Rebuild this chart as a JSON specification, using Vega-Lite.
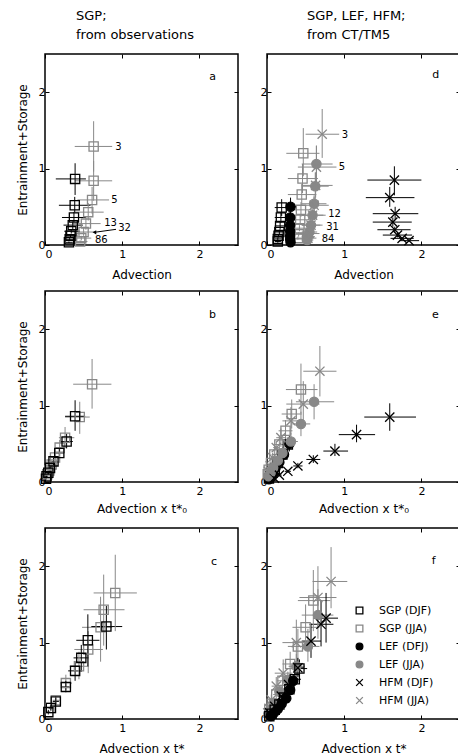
{
"$schema":"https://vega.github.io/schema/vega-lite/v6.json",
"padding":{"left":15,"top":8,"right":0,"bottom":0},
"config":{"font":"DejaVu Sans","view":{"stroke":"black","strokeWidth":1.5},
"axis":{"domain":false,"grid":false,"tickSize":-4,"tickColor":"black","tickWidth":1,"labelFontSize":11,"labelColor":"black","titleFontSize":12,"titleFontWeight":"normal","titleColor":"black"},
"axisX":{"labelPadding":7,"titlePadding":10},
"axisY":{"labelPadding":4,"titlePadding":9},
"title":{"fontSize":13,"fontWeight":"normal","color":"black","lineHeight":19},
"legend":{"orient":"none","legendX":309,"legendY":551,"labelFontSize":11,"symbolSize":45,"rowPadding":5,"labelOffset":14,"symbolStrokeWidth":1.3,"labelColor":"black"}},
"bounds":"flush",
"spacing":{"row":46,"column":29},
"columns":2,
"datasets":{
"pts":[
{"p":"a","s":"SGP (JJA)","x":0.63,"y":1.29,"xl":0.385,"xh":0.87,"yl":0.96,"yh":1.62},
{"p":"a","s":"SGP (JJA)","x":0.63,"y":0.84,"xl":0.385,"xh":0.87,"yl":0.58,"yh":1.1},
{"p":"a","s":"SGP (JJA)","x":0.61,"y":0.59,"xl":0.42,"xh":0.83,"yl":0.41,"yh":0.76},
{"p":"a","s":"SGP (JJA)","x":0.56,"y":0.43,"xl":0.37,"xh":0.76,"yl":0.32,"yh":0.55},
{"p":"a","s":"SGP (JJA)","x":0.53,"y":0.28,"xl":0.35,"xh":0.72,"yl":0.2,"yh":0.36},
{"p":"a","s":"SGP (JJA)","x":0.5,"y":0.17,"xl":0.35,"xh":0.66,"yl":0.12,"yh":0.23},
{"p":"a","s":"SGP (JJA)","x":0.47,"y":0.09,"xl":0.36,"xh":0.6,"yl":0.06,"yh":0.12},
{"p":"a","s":"SGP (JJA)","x":0.455,"y":0.045,"xl":0.37,"xh":0.55,"yl":0.03,"yh":0.06},
{"p":"a","s":"SGP (DJF)","x":0.39,"y":0.865,"xl":0.14,"xh":0.53,"yl":0.655,"yh":1.07},
{"p":"a","s":"SGP (DJF)","x":0.385,"y":0.52,"xl":0.18,"xh":0.59,"yl":0.43,"yh":0.63},
{"p":"a","s":"SGP (DJF)","x":0.375,"y":0.36,"xl":0.22,"xh":0.53,"yl":0.3,"yh":0.43},
{"p":"a","s":"SGP (DJF)","x":0.36,"y":0.26,"xl":0.24,"xh":0.49,"yl":0.21,"yh":0.31},
{"p":"a","s":"SGP (DJF)","x":0.34,"y":0.18,"xl":0.25,"xh":0.45,"yl":0.15,"yh":0.21},
{"p":"a","s":"SGP (DJF)","x":0.33,"y":0.12,"xl":0.26,"xh":0.42,"yl":0.1,"yh":0.14},
{"p":"a","s":"SGP (DJF)","x":0.32,"y":0.075,"xl":0.27,"xh":0.39,"yl":0.06,"yh":0.09},
{"p":"a","s":"SGP (DJF)","x":0.31,"y":0.035,"xl":0.27,"xh":0.36,"yl":0.025,"yh":0.045},

{"p":"d","s":"SGP (DJF)","x":0.19,"y":0.49,"xl":0.1,"xh":0.28,"yl":0.38,"yh":0.6},
{"p":"d","s":"SGP (DJF)","x":0.18,"y":0.36,"xl":0.1,"xh":0.26,"yl":0.29,"yh":0.43},
{"p":"d","s":"SGP (DJF)","x":0.17,"y":0.25,"xl":0.1,"xh":0.24,"yl":0.2,"yh":0.3},
{"p":"d","s":"SGP (DJF)","x":0.16,"y":0.17,"xl":0.1,"xh":0.22,"yl":0.14,"yh":0.2},
{"p":"d","s":"SGP (DJF)","x":0.15,"y":0.12,"xl":0.1,"xh":0.2,"yl":0.1,"yh":0.14},
{"p":"d","s":"SGP (DJF)","x":0.14,"y":0.08,"xl":0.1,"xh":0.19,"yl":0.06,"yh":0.1},
{"p":"d","s":"SGP (DJF)","x":0.14,"y":0.045,"xl":0.1,"xh":0.18,"yl":0.03,"yh":0.06},
{"p":"d","s":"SGP (JJA)","x":0.47,"y":1.2,"xl":0.25,"xh":0.68,"yl":0.9,"yh":1.53},
{"p":"d","s":"SGP (JJA)","x":0.46,"y":0.87,"xl":0.27,"xh":0.66,"yl":0.68,"yh":1.06},
{"p":"d","s":"SGP (JJA)","x":0.45,"y":0.66,"xl":0.27,"xh":0.64,"yl":0.52,"yh":0.8},
{"p":"d","s":"SGP (JJA)","x":0.44,"y":0.46,"xl":0.28,"xh":0.6,"yl":0.37,"yh":0.56},
{"p":"d","s":"SGP (JJA)","x":0.43,"y":0.33,"xl":0.3,"xh":0.57,"yl":0.27,"yh":0.4},
{"p":"d","s":"SGP (JJA)","x":0.42,"y":0.22,"xl":0.31,"xh":0.53,"yl":0.18,"yh":0.26},
{"p":"d","s":"SGP (JJA)","x":0.41,"y":0.14,"xl":0.32,"xh":0.5,"yl":0.11,"yh":0.17},
{"p":"d","s":"SGP (JJA)","x":0.4,"y":0.09,"xl":0.33,"xh":0.48,"yl":0.07,"yh":0.11},
{"p":"d","s":"LEF (DFJ)","x":0.305,"y":0.5,"xl":0.25,"xh":0.38,"yl":0.4,"yh":0.62},
{"p":"d","s":"LEF (DFJ)","x":0.3,"y":0.36,"xl":0.25,"xh":0.36,"yl":0.3,"yh":0.43},
{"p":"d","s":"LEF (DFJ)","x":0.3,"y":0.26,"xl":0.26,"xh":0.35,"yl":0.21,"yh":0.31},
{"p":"d","s":"LEF (DFJ)","x":0.3,"y":0.18,"xl":0.26,"xh":0.34,"yl":0.15,"yh":0.21},
{"p":"d","s":"LEF (DFJ)","x":0.3,"y":0.12,"xl":0.27,"xh":0.33,"yl":0.1,"yh":0.14},
{"p":"d","s":"LEF (DFJ)","x":0.3,"y":0.075,"xl":0.27,"xh":0.33,"yl":0.06,"yh":0.09},
{"p":"d","s":"LEF (DFJ)","x":0.305,"y":0.035,"xl":0.28,"xh":0.33,"yl":0.025,"yh":0.045},
{"p":"d","s":"LEF (JJA)","x":0.64,"y":1.06,"xl":0.45,"xh":0.85,"yl":0.82,"yh":1.3},
{"p":"d","s":"LEF (JJA)","x":0.625,"y":0.77,"xl":0.45,"xh":0.8,"yl":0.6,"yh":0.95},
{"p":"d","s":"LEF (JJA)","x":0.61,"y":0.54,"xl":0.45,"xh":0.77,"yl":0.44,"yh":0.65},
{"p":"d","s":"LEF (JJA)","x":0.59,"y":0.39,"xl":0.45,"xh":0.73,"yl":0.32,"yh":0.46},
{"p":"d","s":"LEF (JJA)","x":0.57,"y":0.26,"xl":0.45,"xh":0.69,"yl":0.21,"yh":0.31},
{"p":"d","s":"LEF (JJA)","x":0.55,"y":0.17,"xl":0.45,"xh":0.65,"yl":0.14,"yh":0.2},
{"p":"d","s":"LEF (JJA)","x":0.53,"y":0.11,"xl":0.45,"xh":0.62,"yl":0.09,"yh":0.13},
{"p":"d","s":"LEF (JJA)","x":0.52,"y":0.065,"xl":0.45,"xh":0.6,"yl":0.05,"yh":0.08},
{"p":"d","s":"HFM (DJF)","x":1.65,"y":0.85,"xl":1.3,"xh":2.0,"yl":0.65,"yh":1.03},
{"p":"d","s":"HFM (DJF)","x":1.59,"y":0.62,"xl":1.28,"xh":1.91,"yl":0.5,"yh":0.76},
{"p":"d","s":"HFM (DJF)","x":1.66,"y":0.41,"xl":1.37,"xh":1.96,"yl":0.33,"yh":0.5},
{"p":"d","s":"HFM (DJF)","x":1.63,"y":0.3,"xl":1.37,"xh":1.875,"yl":0.24,"yh":0.36},
{"p":"d","s":"HFM (DJF)","x":1.655,"y":0.2,"xl":1.43,"xh":1.86,"yl":0.16,"yh":0.24},
{"p":"d","s":"HFM (DJF)","x":1.69,"y":0.13,"xl":1.5,"xh":1.88,"yl":0.1,"yh":0.16},
{"p":"d","s":"HFM (DJF)","x":1.75,"y":0.087,"xl":1.6,"xh":1.9,"yl":0.07,"yh":0.1},
{"p":"d","s":"HFM (DJF)","x":1.84,"y":0.057,"xl":1.72,"xh":1.97,"yl":0.045,"yh":0.07},
{"p":"d","s":"HFM (JJA)","x":0.715,"y":1.45,"xl":0.5,"xh":0.935,"yl":1.14,"yh":1.78},
{"p":"d","s":"HFM (JJA)","x":0.64,"y":1.02,"xl":0.4,"xh":0.9,"yl":0.8,"yh":1.3},
{"p":"d","s":"HFM (JJA)","x":0.63,"y":0.78,"xl":0.45,"xh":0.85,"yl":0.62,"yh":0.95},
{"p":"d","s":"HFM (JJA)","x":0.61,"y":0.52,"xl":0.45,"xh":0.8,"yl":0.42,"yh":0.63},
{"p":"d","s":"HFM (JJA)","x":0.59,"y":0.39,"xl":0.45,"xh":0.76,"yl":0.32,"yh":0.46},
{"p":"d","s":"HFM (JJA)","x":0.57,"y":0.26,"xl":0.45,"xh":0.72,"yl":0.21,"yh":0.31},
{"p":"d","s":"HFM (JJA)","x":0.55,"y":0.15,"xl":0.45,"xh":0.68,"yl":0.12,"yh":0.18},
{"p":"d","s":"HFM (JJA)","x":0.53,"y":0.09,"xl":0.45,"xh":0.64,"yl":0.07,"yh":0.11},

{"p":"b","s":"SGP (JJA)","x":0.61,"y":1.28,"xl":0.365,"xh":0.86,"yl":0.96,"yh":1.61},
{"p":"b","s":"SGP (JJA)","x":0.45,"y":0.85,"xl":0.26,"xh":0.58,"yl":0.63,"yh":1.05},
{"p":"b","s":"SGP (JJA)","x":0.26,"y":0.58,"xl":0.18,"xh":0.38,"yl":0.45,"yh":0.72},
{"p":"b","s":"SGP (JJA)","x":0.19,"y":0.45,"xl":0.13,"xh":0.28,"yl":0.36,"yh":0.55},
{"p":"b","s":"SGP (JJA)","x":0.13,"y":0.32,"xl":0.08,"xh":0.2,"yl":0.25,"yh":0.39},
{"p":"b","s":"SGP (JJA)","x":0.086,"y":0.23,"xl":0.05,"xh":0.14,"yl":0.18,"yh":0.28},
{"p":"b","s":"SGP (JJA)","x":0.056,"y":0.15,"xl":0.03,"xh":0.09,"yl":0.12,"yh":0.18},
{"p":"b","s":"SGP (JJA)","x":0.03,"y":0.1,"xl":0.015,"xh":0.05,"yl":0.08,"yh":0.12},
{"p":"b","s":"SGP (DJF)","x":0.39,"y":0.86,"xl":0.26,"xh":0.52,"yl":0.67,"yh":1.07},
{"p":"b","s":"SGP (DJF)","x":0.28,"y":0.53,"xl":0.2,"xh":0.36,"yl":0.44,"yh":0.63},
{"p":"b","s":"SGP (DJF)","x":0.185,"y":0.38,"xl":0.12,"xh":0.25,"yl":0.32,"yh":0.44},
{"p":"b","s":"SGP (DJF)","x":0.11,"y":0.27,"xl":0.07,"xh":0.16,"yl":0.22,"yh":0.32},
{"p":"b","s":"SGP (DJF)","x":0.065,"y":0.185,"xl":0.04,"xh":0.1,"yl":0.15,"yh":0.22},
{"p":"b","s":"SGP (DJF)","x":0.043,"y":0.12,"xl":0.025,"xh":0.065,"yl":0.1,"yh":0.14},
{"p":"b","s":"SGP (DJF)","x":0.02,"y":0.075,"xl":0.01,"xh":0.035,"yl":0.06,"yh":0.09},
{"p":"b","s":"SGP (DJF)","x":0.013,"y":0.044,"xl":0.005,"xh":0.025,"yl":0.03,"yh":0.06},

{"p":"e","s":"SGP (DJF)","x":0.27,"y":0.49,"xl":0.2,"xh":0.34,"yl":0.4,"yh":0.58},
{"p":"e","s":"SGP (DJF)","x":0.2,"y":0.36,"xl":0.15,"xh":0.25,"yl":0.3,"yh":0.42},
{"p":"e","s":"SGP (DJF)","x":0.14,"y":0.25,"xl":0.1,"xh":0.18,"yl":0.21,"yh":0.29},
{"p":"e","s":"SGP (DJF)","x":0.1,"y":0.17,"xl":0.07,"xh":0.13,"yl":0.14,"yh":0.2},
{"p":"e","s":"SGP (DJF)","x":0.07,"y":0.12,"xl":0.05,"xh":0.09,"yl":0.1,"yh":0.14},
{"p":"e","s":"SGP (DJF)","x":0.045,"y":0.08,"xl":0.03,"xh":0.06,"yl":0.06,"yh":0.1},
{"p":"e","s":"SGP (DJF)","x":0.025,"y":0.045,"xl":0.015,"xh":0.035,"yl":0.03,"yh":0.06},
{"p":"e","s":"SGP (JJA)","x":0.44,"y":1.21,"xl":0.245,"xh":0.655,"yl":0.9,"yh":1.55},
{"p":"e","s":"SGP (JJA)","x":0.32,"y":0.89,"xl":0.19,"xh":0.45,"yl":0.7,"yh":1.08},
{"p":"e","s":"SGP (JJA)","x":0.24,"y":0.67,"xl":0.15,"xh":0.33,"yl":0.53,"yh":0.81},
{"p":"e","s":"SGP (JJA)","x":0.16,"y":0.49,"xl":0.1,"xh":0.23,"yl":0.39,"yh":0.6},
{"p":"e","s":"SGP (JJA)","x":0.095,"y":0.36,"xl":0.06,"xh":0.14,"yl":0.29,"yh":0.43},
{"p":"e","s":"SGP (JJA)","x":0.052,"y":0.25,"xl":0.03,"xh":0.08,"yl":0.2,"yh":0.3},
{"p":"e","s":"SGP (JJA)","x":0.022,"y":0.16,"xl":0.01,"xh":0.04,"yl":0.13,"yh":0.19},
{"p":"e","s":"SGP (JJA)","x":0.01,"y":0.1,"xl":0.005,"xh":0.02,"yl":0.08,"yh":0.12},
{"p":"e","s":"LEF (DFJ)","x":0.29,"y":0.5,"xl":0.23,"xh":0.35,"yl":0.4,"yh":0.6},
{"p":"e","s":"LEF (DFJ)","x":0.22,"y":0.36,"xl":0.17,"xh":0.27,"yl":0.3,"yh":0.42},
{"p":"e","s":"LEF (DFJ)","x":0.16,"y":0.26,"xl":0.12,"xh":0.2,"yl":0.21,"yh":0.31},
{"p":"e","s":"LEF (DFJ)","x":0.11,"y":0.18,"xl":0.08,"xh":0.14,"yl":0.15,"yh":0.21},
{"p":"e","s":"LEF (DFJ)","x":0.075,"y":0.12,"xl":0.05,"xh":0.1,"yl":0.1,"yh":0.14},
{"p":"e","s":"LEF (DFJ)","x":0.05,"y":0.075,"xl":0.03,"xh":0.07,"yl":0.06,"yh":0.09},
{"p":"e","s":"LEF (DFJ)","x":0.025,"y":0.035,"xl":0.015,"xh":0.035,"yl":0.025,"yh":0.045},
{"p":"e","s":"LEF (JJA)","x":0.61,"y":1.05,"xl":0.375,"xh":0.87,"yl":0.82,"yh":1.28},
{"p":"e","s":"LEF (JJA)","x":0.44,"y":0.76,"xl":0.33,"xh":0.56,"yl":0.6,"yh":0.92},
{"p":"e","s":"LEF (JJA)","x":0.31,"y":0.53,"xl":0.23,"xh":0.4,"yl":0.43,"yh":0.64},
{"p":"e","s":"LEF (JJA)","x":0.2,"y":0.38,"xl":0.15,"xh":0.26,"yl":0.31,"yh":0.45},
{"p":"e","s":"LEF (JJA)","x":0.14,"y":0.28,"xl":0.1,"xh":0.18,"yl":0.23,"yh":0.33},
{"p":"e","s":"LEF (JJA)","x":0.08,"y":0.185,"xl":0.06,"xh":0.11,"yl":0.15,"yh":0.22},
{"p":"e","s":"LEF (JJA)","x":0.047,"y":0.12,"xl":0.03,"xh":0.065,"yl":0.1,"yh":0.14},
{"p":"e","s":"LEF (JJA)","x":0.02,"y":0.075,"xl":0.01,"xh":0.03,"yl":0.06,"yh":0.09},
{"p":"e","s":"HFM (DJF)","x":1.59,"y":0.85,"xl":1.26,"xh":1.93,"yl":0.67,"yh":1.03},
{"p":"e","s":"HFM (DJF)","x":1.16,"y":0.62,"xl":0.93,"xh":1.4,"yl":0.52,"yh":0.75},
{"p":"e","s":"HFM (DJF)","x":0.88,"y":0.405,"xl":0.73,"xh":1.05,"yl":0.34,"yh":0.5},
{"p":"e","s":"HFM (DJF)","x":0.6,"y":0.295,"xl":0.51,"xh":0.69,"yl":0.25,"yh":0.35},
{"p":"e","s":"HFM (DJF)","x":0.4,"y":0.21,"xl":0.34,"xh":0.46,"yl":0.18,"yh":0.25},
{"p":"e","s":"HFM (DJF)","x":0.27,"y":0.14,"xl":0.23,"xh":0.31,"yl":0.12,"yh":0.16},
{"p":"e","s":"HFM (DJF)","x":0.16,"y":0.09,"xl":0.13,"xh":0.19,"yl":0.075,"yh":0.105},
{"p":"e","s":"HFM (DJF)","x":0.095,"y":0.05,"xl":0.08,"xh":0.11,"yl":0.04,"yh":0.06},
{"p":"e","s":"HFM (JJA)","x":0.685,"y":1.45,"xl":0.47,"xh":0.9,"yl":1.12,"yh":1.78},
{"p":"e","s":"HFM (JJA)","x":0.47,"y":1.02,"xl":0.25,"xh":0.68,"yl":0.72,"yh":1.32},
{"p":"e","s":"HFM (JJA)","x":0.31,"y":0.8,"xl":0.2,"xh":0.42,"yl":0.62,"yh":0.98},
{"p":"e","s":"HFM (JJA)","x":0.18,"y":0.58,"xl":0.12,"xh":0.25,"yl":0.46,"yh":0.7},
{"p":"e","s":"HFM (JJA)","x":0.12,"y":0.45,"xl":0.08,"xh":0.16,"yl":0.37,"yh":0.53},
{"p":"e","s":"HFM (JJA)","x":0.073,"y":0.32,"xl":0.05,"xh":0.1,"yl":0.26,"yh":0.38},
{"p":"e","s":"HFM (JJA)","x":0.04,"y":0.21,"xl":0.025,"xh":0.055,"yl":0.17,"yh":0.25},
{"p":"e","s":"HFM (JJA)","x":0.017,"y":0.14,"xl":0.01,"xh":0.025,"yl":0.11,"yh":0.17},

{"p":"c","s":"SGP (JJA)","x":0.91,"y":1.65,"xl":0.63,"xh":1.19,"yl":1.15,"yh":2.15},
{"p":"c","s":"SGP (JJA)","x":0.76,"y":1.43,"xl":0.5,"xh":1.03,"yl":0.96,"yh":1.89},
{"p":"c","s":"SGP (JJA)","x":0.72,"y":1.2,"xl":0.48,"xh":0.87,"yl":0.75,"yh":1.6},
{"p":"c","s":"SGP (JJA)","x":0.56,"y":0.91,"xl":0.38,"xh":0.75,"yl":0.6,"yh":1.15},
{"p":"c","s":"SGP (JJA)","x":0.44,"y":0.69,"xl":0.32,"xh":0.57,"yl":0.52,"yh":0.88},
{"p":"c","s":"SGP (JJA)","x":0.27,"y":0.47,"xl":0.2,"xh":0.35,"yl":0.38,"yh":0.58},
{"p":"c","s":"SGP (JJA)","x":0.14,"y":0.245,"xl":0.1,"xh":0.19,"yl":0.2,"yh":0.3},
{"p":"c","s":"SGP (JJA)","x":0.07,"y":0.145,"xl":0.04,"xh":0.1,"yl":0.11,"yh":0.18},
{"p":"c","s":"SGP (DJF)","x":0.795,"y":1.21,"xl":0.6,"xh":1.0,"yl":0.91,"yh":1.48},
{"p":"c","s":"SGP (DJF)","x":0.555,"y":1.03,"xl":0.405,"xh":0.705,"yl":0.69,"yh":1.37},
{"p":"c","s":"SGP (DJF)","x":0.47,"y":0.8,"xl":0.37,"xh":0.57,"yl":0.62,"yh":0.97},
{"p":"c","s":"SGP (DJF)","x":0.39,"y":0.63,"xl":0.3,"xh":0.48,"yl":0.5,"yh":0.76},
{"p":"c","s":"SGP (DJF)","x":0.27,"y":0.42,"xl":0.22,"xh":0.32,"yl":0.35,"yh":0.5},
{"p":"c","s":"SGP (DJF)","x":0.14,"y":0.23,"xl":0.1,"xh":0.18,"yl":0.18,"yh":0.28},
{"p":"c","s":"SGP (DJF)","x":0.077,"y":0.145,"xl":0.05,"xh":0.11,"yl":0.11,"yh":0.18},
{"p":"c","s":"SGP (DJF)","x":0.043,"y":0.09,"xl":0.02,"xh":0.07,"yl":0.06,"yh":0.12},

{"p":"f","s":"SGP (JJA)","x":0.6,"y":1.55,"xl":0.4,"xh":0.82,"yl":1.15,"yh":1.95},
{"p":"f","s":"SGP (JJA)","x":0.5,"y":1.2,"xl":0.33,"xh":0.68,"yl":0.9,"yh":1.5},
{"p":"f","s":"SGP (JJA)","x":0.4,"y":0.95,"xl":0.27,"xh":0.54,"yl":0.72,"yh":1.18},
{"p":"f","s":"SGP (JJA)","x":0.3,"y":0.72,"xl":0.2,"xh":0.41,"yl":0.56,"yh":0.88},
{"p":"f","s":"SGP (JJA)","x":0.2,"y":0.5,"xl":0.13,"xh":0.28,"yl":0.4,"yh":0.6},
{"p":"f","s":"SGP (JJA)","x":0.12,"y":0.32,"xl":0.08,"xh":0.17,"yl":0.25,"yh":0.39},
{"p":"f","s":"SGP (JJA)","x":0.06,"y":0.2,"xl":0.04,"xh":0.09,"yl":0.15,"yh":0.25},
{"p":"f","s":"SGP (JJA)","x":0.03,"y":0.12,"xl":0.015,"xh":0.05,"yl":0.09,"yh":0.15},
{"p":"f","s":"LEF (JJA)","x":0.66,"y":1.36,"xl":0.45,"xh":0.86,"yl":1.05,"yh":1.7},
{"p":"f","s":"LEF (JJA)","x":0.53,"y":0.95,"xl":0.38,"xh":0.68,"yl":0.75,"yh":1.18},
{"p":"f","s":"LEF (JJA)","x":0.38,"y":0.69,"xl":0.28,"xh":0.49,"yl":0.55,"yh":0.85},
{"p":"f","s":"LEF (JJA)","x":0.27,"y":0.515,"xl":0.2,"xh":0.35,"yl":0.42,"yh":0.62},
{"p":"f","s":"LEF (JJA)","x":0.16,"y":0.36,"xl":0.11,"xh":0.22,"yl":0.29,"yh":0.43},
{"p":"f","s":"LEF (JJA)","x":0.086,"y":0.21,"xl":0.06,"xh":0.12,"yl":0.17,"yh":0.26},
{"p":"f","s":"LEF (JJA)","x":0.043,"y":0.12,"xl":0.03,"xh":0.06,"yl":0.09,"yh":0.15},
{"p":"f","s":"LEF (JJA)","x":0.017,"y":0.07,"xl":0.01,"xh":0.03,"yl":0.05,"yh":0.09},
{"p":"f","s":"HFM (JJA)","x":0.83,"y":1.8,"xl":0.59,"xh":1.04,"yl":1.45,"yh":2.25},
{"p":"f","s":"HFM (JJA)","x":0.66,"y":1.59,"xl":0.42,"xh":0.9,"yl":1.2,"yh":2.0},
{"p":"f","s":"HFM (JJA)","x":0.38,"y":1.0,"xl":0.2,"xh":0.58,"yl":0.72,"yh":1.3},
{"p":"f","s":"HFM (JJA)","x":0.21,"y":0.6,"xl":0.1,"xh":0.33,"yl":0.45,"yh":0.78},
{"p":"f","s":"HFM (JJA)","x":0.12,"y":0.43,"xl":0.06,"xh":0.2,"yl":0.33,"yh":0.55},
{"p":"f","s":"HFM (JJA)","x":0.056,"y":0.25,"xl":0.02,"xh":0.1,"yl":0.19,"yh":0.32},
{"p":"f","s":"HFM (JJA)","x":0.026,"y":0.14,"xl":0.01,"xh":0.05,"yl":0.1,"yh":0.18},
{"p":"f","s":"HFM (JJA)","x":0.01,"y":0.08,"xl":0.0,"xh":0.03,"yl":0.05,"yh":0.1},
{"p":"f","s":"SGP (DJF)","x":0.42,"y":0.66,"xl":0.33,"xh":0.52,"yl":0.55,"yh":0.78},
{"p":"f","s":"SGP (DJF)","x":0.36,"y":0.52,"xl":0.28,"xh":0.44,"yl":0.44,"yh":0.6},
{"p":"f","s":"SGP (DJF)","x":0.29,"y":0.39,"xl":0.22,"xh":0.36,"yl":0.33,"yh":0.45},
{"p":"f","s":"SGP (DJF)","x":0.22,"y":0.28,"xl":0.17,"xh":0.27,"yl":0.23,"yh":0.33},
{"p":"f","s":"SGP (DJF)","x":0.16,"y":0.19,"xl":0.12,"xh":0.2,"yl":0.16,"yh":0.22},
{"p":"f","s":"SGP (DJF)","x":0.1,"y":0.12,"xl":0.07,"xh":0.13,"yl":0.1,"yh":0.14},
{"p":"f","s":"SGP (DJF)","x":0.06,"y":0.07,"xl":0.04,"xh":0.08,"yl":0.055,"yh":0.085},
{"p":"f","s":"SGP (DJF)","x":0.03,"y":0.035,"xl":0.02,"xh":0.04,"yl":0.025,"yh":0.045},
{"p":"f","s":"LEF (DFJ)","x":0.34,"y":0.5,"xl":0.28,"xh":0.4,"yl":0.42,"yh":0.58},
{"p":"f","s":"LEF (DFJ)","x":0.3,"y":0.38,"xl":0.25,"xh":0.35,"yl":0.32,"yh":0.44},
{"p":"f","s":"LEF (DFJ)","x":0.25,"y":0.27,"xl":0.21,"xh":0.29,"yl":0.23,"yh":0.31},
{"p":"f","s":"LEF (DFJ)","x":0.19,"y":0.2,"xl":0.16,"xh":0.22,"yl":0.17,"yh":0.23},
{"p":"f","s":"LEF (DFJ)","x":0.14,"y":0.13,"xl":0.12,"xh":0.16,"yl":0.11,"yh":0.15},
{"p":"f","s":"LEF (DFJ)","x":0.09,"y":0.08,"xl":0.07,"xh":0.11,"yl":0.065,"yh":0.095},
{"p":"f","s":"LEF (DFJ)","x":0.05,"y":0.04,"xl":0.04,"xh":0.06,"yl":0.03,"yh":0.05},
{"p":"f","s":"HFM (DJF)","x":0.765,"y":1.32,"xl":0.6,"xh":0.92,"yl":1.0,"yh":1.65},
{"p":"f","s":"HFM (DJF)","x":0.7,"y":1.24,"xl":0.55,"xh":0.86,"yl":0.95,"yh":1.55},
{"p":"f","s":"HFM (DJF)","x":0.57,"y":1.02,"xl":0.45,"xh":0.7,"yl":0.8,"yh":1.25},
{"p":"f","s":"HFM (DJF)","x":0.4,"y":0.67,"xl":0.32,"xh":0.48,"yl":0.55,"yh":0.8},
{"p":"f","s":"HFM (DJF)","x":0.28,"y":0.45,"xl":0.22,"xh":0.34,"yl":0.37,"yh":0.53},
{"p":"f","s":"HFM (DJF)","x":0.185,"y":0.3,"xl":0.14,"xh":0.23,"yl":0.25,"yh":0.35},
{"p":"f","s":"HFM (DJF)","x":0.1,"y":0.165,"xl":0.07,"xh":0.13,"yl":0.13,"yh":0.2},
{"p":"f","s":"HFM (DJF)","x":0.034,"y":0.08,"xl":0.02,"xh":0.05,"yl":0.06,"yh":0.1}
],
"ann":[
{"p":"a","x":0.95,"y":1.28,"t":"3"},
{"p":"a","x":0.9,"y":0.59,"t":"5"},
{"p":"a","x":0.85,"y":0.29,"t":"13"},
{"p":"a","x":1.03,"y":0.22,"t":"32"},
{"p":"a","x":0.73,"y":0.065,"t":"86"},
{"p":"d","x":1.01,"y":1.44,"t":"3"},
{"p":"d","x":0.97,"y":1.02,"t":"5"},
{"p":"d","x":0.875,"y":0.4,"t":"12"},
{"p":"d","x":0.85,"y":0.24,"t":"31"},
{"p":"d","x":0.79,"y":0.075,"t":"84"}
],
"letters":[
{"p":"a","x":2.17,"y":2.2,"t":"a"},
{"p":"b","x":2.17,"y":2.19,"t":"b"},
{"p":"c","x":2.19,"y":2.06,"t":"c"},
{"p":"d","x":2.185,"y":2.22,"t":"d"},
{"p":"e","x":2.18,"y":2.19,"t":"e"},
{"p":"f","x":2.16,"y":2.07,"t":"f"}
],
"arrow":[{"p":"a","x":0.92,"y":0.205,"x2":0.64,"y2":0.166}]
},
"concat":[
{"width":193,"height":191,
"title":{"text":["SGP;","from observations"],"anchor":"start","frame":"group","dx":31,"offset":12},
"layer":[
{"data":{"name":"pts"},"transform":[{"filter":"datum.p=='a'"}],"mark":{"type":"rule","strokeWidth":1},
"encoding":{"x":{"field":"xl","type":"quantitative","scale":{"domain":[0,2.5],"nice":false},"axis":{"values":[0,1,2],"title":"Advection"}},"x2":{"field":"xh"},
"y":{"field":"y","type":"quantitative","scale":{"domain":[0,2.5],"nice":false},"axis":{"values":[0,1,2],"title":"Entrainment+Storage"}},
"stroke":{"field":"s","type":"nominal","title":null,"scale":{"domain":["SGP (DJF)","SGP (JJA)","LEF (DFJ)","LEF (JJA)","HFM (DJF)","HFM (JJA)"],"range":["black","#888888","black","#888888","black","#888888"]}}}},
{"data":{"name":"pts"},"transform":[{"filter":"datum.p=='a'"}],"mark":{"type":"rule","strokeWidth":1},
"encoding":{"x":{"field":"x","type":"quantitative","axis":{"orient":"top","values":[0,1,2],"labels":false,"title":null}},
"y":{"field":"yl","type":"quantitative","axis":{"orient":"right","values":[0,1,2],"labels":false,"title":null}},"y2":{"field":"yh"},
"stroke":{"field":"s","type":"nominal","title":null}}},
{"data":{"name":"pts"},"transform":[{"filter":"datum.p=='a'"}],"mark":{"type":"point","size":85,"strokeWidth":1.3,"opacity":1},
"encoding":{"x":{"field":"x","type":"quantitative","axis":null},"y":{"field":"y","type":"quantitative","axis":null},
"stroke":{"field":"s","type":"nominal","title":null},
"fill":{"field":"s","type":"nominal","title":null,"scale":{"domain":["SGP (DJF)","SGP (JJA)","LEF (DFJ)","LEF (JJA)","HFM (DJF)","HFM (JJA)"],"range":["transparent","transparent","black","#888888","transparent","transparent"]}},
"shape":{"field":"s","type":"nominal","title":null,"scale":{"domain":["SGP (DJF)","SGP (JJA)","LEF (DFJ)","LEF (JJA)","HFM (DJF)","HFM (JJA)"],"range":["square","square","circle","circle","M-1,-1L1,1M-1,1L1,-1","M-1,-1L1,1M-1,1L1,-1"]}}}},
{"data":{"name":"arrow"},"transform":[{"filter":"datum.p=='a'"}],"mark":{"type":"rule","strokeWidth":1,"color":"black"},
"encoding":{"x":{"field":"x","type":"quantitative","axis":null},"y":{"field":"y","type":"quantitative","axis":null},"x2":{"field":"x2"},"y2":{"field":"y2"}}},
{"data":{"name":"arrow"},"transform":[{"filter":"datum.p=='a'"}],"mark":{"type":"point","shape":"triangle-left","size":18,"filled":true,"color":"black","opacity":1},
"encoding":{"x":{"field":"x2","type":"quantitative","axis":null},"y":{"field":"y2","type":"quantitative","axis":null}}},
{"data":{"name":"ann"},"transform":[{"filter":"datum.p=='a'"}],"mark":{"type":"text","fontSize":10,"align":"center","baseline":"middle","color":"black"},
"encoding":{"x":{"field":"x","type":"quantitative","axis":null},"y":{"field":"y","type":"quantitative","axis":null},"text":{"field":"t"}}},
{"data":{"name":"letters"},"transform":[{"filter":"datum.p=='a'"}],"mark":{"type":"text","fontSize":11,"align":"center","baseline":"middle","color":"black"},
"encoding":{"x":{"field":"x","type":"quantitative","axis":null},"y":{"field":"y","type":"quantitative","axis":null},"text":{"field":"t"}}}
],
"resolve":{"axis":{"x":"independent","y":"independent"}}},

{"width":193,"height":191,
"title":{"text":["SGP, LEF, HFM;","from CT/TM5"],"anchor":"start","frame":"group","dx":40,"offset":12},
"layer":[
{"data":{"name":"pts"},"transform":[{"filter":"datum.p=='d'"}],"mark":{"type":"rule","strokeWidth":1},
"encoding":{"x":{"field":"xl","type":"quantitative","scale":{"domain":[0,2.5],"nice":false},"axis":{"values":[0,1,2],"title":"Advection"}},"x2":{"field":"xh"},
"y":{"field":"y","type":"quantitative","scale":{"domain":[0,2.5],"nice":false},"axis":{"values":[0,1,2],"title":null}},
"stroke":{"field":"s","type":"nominal","title":null}}},
{"data":{"name":"pts"},"transform":[{"filter":"datum.p=='d'"}],"mark":{"type":"rule","strokeWidth":1},
"encoding":{"x":{"field":"x","type":"quantitative","axis":{"orient":"top","values":[0,1,2],"labels":false,"title":null}},
"y":{"field":"yl","type":"quantitative","axis":{"orient":"right","values":[0,1,2],"labels":false,"title":null}},"y2":{"field":"yh"},
"stroke":{"field":"s","type":"nominal","title":null}}},
{"data":{"name":"pts"},"transform":[{"filter":"datum.p=='d'"}],"mark":{"type":"point","size":85,"strokeWidth":1.3,"opacity":1},
"encoding":{"x":{"field":"x","type":"quantitative","axis":null},"y":{"field":"y","type":"quantitative","axis":null},
"stroke":{"field":"s","type":"nominal","title":null},"fill":{"field":"s","type":"nominal","title":null},"shape":{"field":"s","type":"nominal","title":null}}},
{"data":{"name":"ann"},"transform":[{"filter":"datum.p=='d'"}],"mark":{"type":"text","fontSize":10,"align":"center","baseline":"middle","color":"black"},
"encoding":{"x":{"field":"x","type":"quantitative","axis":null},"y":{"field":"y","type":"quantitative","axis":null},"text":{"field":"t"}}},
{"data":{"name":"letters"},"transform":[{"filter":"datum.p=='d'"}],"mark":{"type":"text","fontSize":11,"align":"center","baseline":"middle","color":"black"},
"encoding":{"x":{"field":"x","type":"quantitative","axis":null},"y":{"field":"y","type":"quantitative","axis":null},"text":{"field":"t"}}}
],
"resolve":{"axis":{"x":"independent","y":"independent"}}},

{"width":193,"height":191,
"layer":[
{"data":{"name":"pts"},"transform":[{"filter":"datum.p=='b'"}],"mark":{"type":"rule","strokeWidth":1},
"encoding":{"x":{"field":"xl","type":"quantitative","scale":{"domain":[0,2.5],"nice":false},"axis":{"values":[0,1,2],"title":"Advection x t*₀","titlePadding":7}},"x2":{"field":"xh"},
"y":{"field":"y","type":"quantitative","scale":{"domain":[0,2.5],"nice":false},"axis":{"values":[0,1,2],"title":"Entrainment+Storage"}},
"stroke":{"field":"s","type":"nominal","title":null}}},
{"data":{"name":"pts"},"transform":[{"filter":"datum.p=='b'"}],"mark":{"type":"rule","strokeWidth":1},
"encoding":{"x":{"field":"x","type":"quantitative","axis":{"orient":"top","values":[0,1,2],"labels":false,"title":null}},
"y":{"field":"yl","type":"quantitative","axis":{"orient":"right","values":[0,1,2],"labels":false,"title":null}},"y2":{"field":"yh"},
"stroke":{"field":"s","type":"nominal","title":null}}},
{"data":{"name":"pts"},"transform":[{"filter":"datum.p=='b'"}],"mark":{"type":"point","size":85,"strokeWidth":1.3,"opacity":1},
"encoding":{"x":{"field":"x","type":"quantitative","axis":null},"y":{"field":"y","type":"quantitative","axis":null},
"stroke":{"field":"s","type":"nominal","title":null},"fill":{"field":"s","type":"nominal","title":null},"shape":{"field":"s","type":"nominal","title":null}}},
{"data":{"name":"letters"},"transform":[{"filter":"datum.p=='b'"}],"mark":{"type":"text","fontSize":11,"align":"center","baseline":"middle","color":"black"},
"encoding":{"x":{"field":"x","type":"quantitative","axis":null},"y":{"field":"y","type":"quantitative","axis":null},"text":{"field":"t"}}}
],
"resolve":{"axis":{"x":"independent","y":"independent"}}},

{"width":193,"height":191,
"layer":[
{"data":{"name":"pts"},"transform":[{"filter":"datum.p=='e'"}],"mark":{"type":"rule","strokeWidth":1},
"encoding":{"x":{"field":"xl","type":"quantitative","scale":{"domain":[0,2.5],"nice":false},"axis":{"values":[0,1,2],"title":"Advection x t*₀","titlePadding":7}},"x2":{"field":"xh"},
"y":{"field":"y","type":"quantitative","scale":{"domain":[0,2.5],"nice":false},"axis":{"values":[0,1,2],"title":null}},
"stroke":{"field":"s","type":"nominal","title":null}}},
{"data":{"name":"pts"},"transform":[{"filter":"datum.p=='e'"}],"mark":{"type":"rule","strokeWidth":1},
"encoding":{"x":{"field":"x","type":"quantitative","axis":{"orient":"top","values":[0,1,2],"labels":false,"title":null}},
"y":{"field":"yl","type":"quantitative","axis":{"orient":"right","values":[0,1,2],"labels":false,"title":null}},"y2":{"field":"yh"},
"stroke":{"field":"s","type":"nominal","title":null}}},
{"data":{"name":"pts"},"transform":[{"filter":"datum.p=='e'"}],"mark":{"type":"point","size":85,"strokeWidth":1.3,"opacity":1},
"encoding":{"x":{"field":"x","type":"quantitative","axis":null},"y":{"field":"y","type":"quantitative","axis":null},
"stroke":{"field":"s","type":"nominal","title":null},"fill":{"field":"s","type":"nominal","title":null},"shape":{"field":"s","type":"nominal","title":null}}},
{"data":{"name":"letters"},"transform":[{"filter":"datum.p=='e'"}],"mark":{"type":"text","fontSize":11,"align":"center","baseline":"middle","color":"black"},
"encoding":{"x":{"field":"x","type":"quantitative","axis":null},"y":{"field":"y","type":"quantitative","axis":null},"text":{"field":"t"}}}
],
"resolve":{"axis":{"x":"independent","y":"independent"}}},

{"width":193,"height":191,
"layer":[
{"data":{"name":"pts"},"transform":[{"filter":"datum.p=='c'"}],"mark":{"type":"rule","strokeWidth":1},
"encoding":{"x":{"field":"xl","type":"quantitative","scale":{"domain":[0,2.5],"nice":false},"axis":{"values":[0,1,2],"title":"Advection x t*"}},"x2":{"field":"xh"},
"y":{"field":"y","type":"quantitative","scale":{"domain":[0,2.5],"nice":false},"axis":{"values":[0,1,2],"title":"Entrainment+Storage"}},
"stroke":{"field":"s","type":"nominal","title":null}}},
{"data":{"name":"pts"},"transform":[{"filter":"datum.p=='c'"}],"mark":{"type":"rule","strokeWidth":1},
"encoding":{"x":{"field":"x","type":"quantitative","axis":{"orient":"top","values":[0,1,2],"labels":false,"title":null}},
"y":{"field":"yl","type":"quantitative","axis":{"orient":"right","values":[0,1,2],"labels":false,"title":null}},"y2":{"field":"yh"},
"stroke":{"field":"s","type":"nominal","title":null}}},
{"data":{"name":"pts"},"transform":[{"filter":"datum.p=='c'"}],"mark":{"type":"point","size":85,"strokeWidth":1.3,"opacity":1},
"encoding":{"x":{"field":"x","type":"quantitative","axis":null},"y":{"field":"y","type":"quantitative","axis":null},
"stroke":{"field":"s","type":"nominal","title":null},"fill":{"field":"s","type":"nominal","title":null},"shape":{"field":"s","type":"nominal","title":null}}},
{"data":{"name":"letters"},"transform":[{"filter":"datum.p=='c'"}],"mark":{"type":"text","fontSize":11,"align":"center","baseline":"middle","color":"black"},
"encoding":{"x":{"field":"x","type":"quantitative","axis":null},"y":{"field":"y","type":"quantitative","axis":null},"text":{"field":"t"}}}
],
"resolve":{"axis":{"x":"independent","y":"independent"}}},

{"width":193,"height":191,
"layer":[
{"data":{"name":"pts"},"transform":[{"filter":"datum.p=='f'"}],"mark":{"type":"rule","strokeWidth":1},
"encoding":{"x":{"field":"xl","type":"quantitative","scale":{"domain":[0,2.5],"nice":false},"axis":{"values":[0,1,2],"title":"Advection x t*"}},"x2":{"field":"xh"},
"y":{"field":"y","type":"quantitative","scale":{"domain":[0,2.5],"nice":false},"axis":{"values":[0,1,2],"title":null}},
"stroke":{"field":"s","type":"nominal","title":null}}},
{"data":{"name":"pts"},"transform":[{"filter":"datum.p=='f'"}],"mark":{"type":"rule","strokeWidth":1},
"encoding":{"x":{"field":"x","type":"quantitative","axis":{"orient":"top","values":[0,1,2],"labels":false,"title":null}},
"y":{"field":"yl","type":"quantitative","axis":{"orient":"right","values":[0,1,2],"labels":false,"title":null}},"y2":{"field":"yh"},
"stroke":{"field":"s","type":"nominal","title":null}}},
{"data":{"name":"pts"},"transform":[{"filter":"datum.p=='f'"}],"mark":{"type":"point","size":85,"strokeWidth":1.3,"opacity":1},
"encoding":{"x":{"field":"x","type":"quantitative","axis":null},"y":{"field":"y","type":"quantitative","axis":null},
"stroke":{"field":"s","type":"nominal","title":null},"fill":{"field":"s","type":"nominal","title":null},"shape":{"field":"s","type":"nominal","title":null}}},
{"data":{"name":"letters"},"transform":[{"filter":"datum.p=='f'"}],"mark":{"type":"text","fontSize":11,"align":"center","baseline":"middle","color":"black"},
"encoding":{"x":{"field":"x","type":"quantitative","axis":null},"y":{"field":"y","type":"quantitative","axis":null},"text":{"field":"t"}}}
],
"resolve":{"axis":{"x":"independent","y":"independent"}}}
]
}
